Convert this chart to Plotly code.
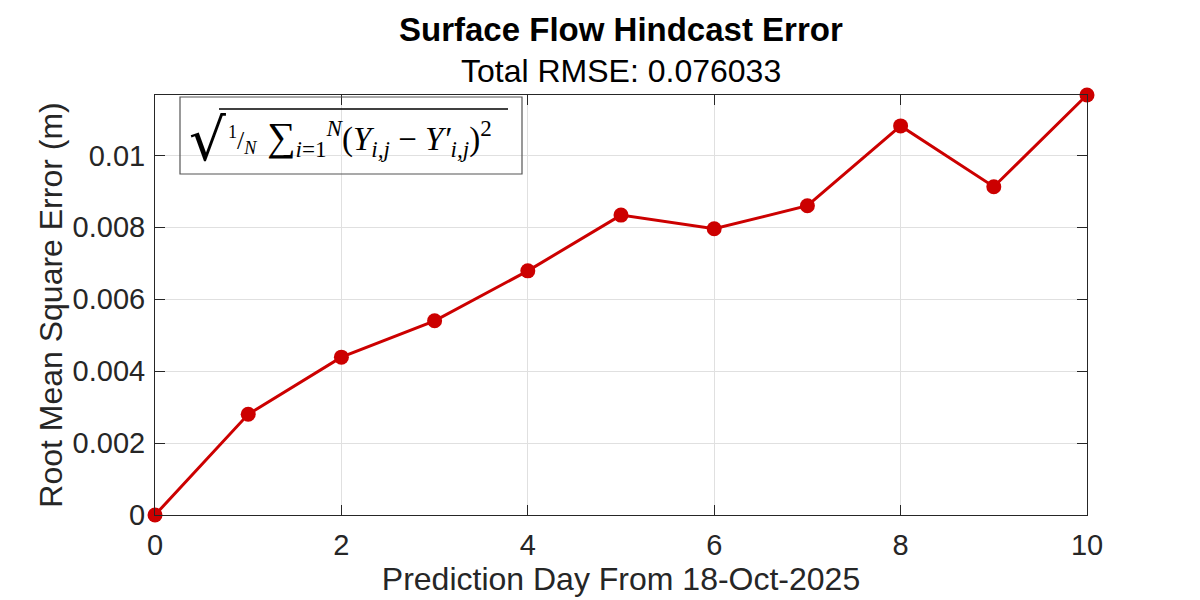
import plotly.graph_objects as go

days = [0, 1, 2, 3, 4, 5, 6, 7, 8, 9, 10]
rmse = [0.0, 0.0028, 0.00439, 0.0054, 0.00679, 0.00834, 0.00796, 0.0086, 0.01082, 0.00913, 0.01168]
ytick_vals = [0, 0.002, 0.004, 0.006, 0.008, 0.01]
ytick_text = ["0", "0.002", "0.004", "0.006", "0.008", "0.01"]
xtick_vals = [0, 2, 4, 6, 8, 10]

title = "Surface Flow Hindcast Error"
subtitle = "Total RMSE: 0.076033"
xlabel = "Prediction Day From 18-Oct-2025"
ylabel = "Root Mean Square Error (m)"

FONT = "Liberation Sans, Arial, Helvetica, sans-serif"
TXT = "#262626"

# page offset (browser body margin) compensation
L, T, PW, PH = 147, 87, 932, 420

fig = go.Figure()
fig.add_trace(go.Scatter(
    x=days, y=rmse, mode="lines+markers",
    line=dict(color="#CC0000", width=3),
    marker=dict(color="#CC0000", size=15),
    showlegend=False, cliponaxis=False,
))

axis_common = dict(
    showline=True, linecolor="#262626", linewidth=1, mirror="allticks",
    ticks="inside", ticklen=10, tickcolor="#262626", tickwidth=1,
    showgrid=True, gridcolor="#e0e0e0", gridwidth=1, zeroline=False,
    tickfont=dict(family=FONT, size=29, color=TXT),
)

fig.update_layout(
    width=1200, height=600,
    margin=dict(l=L, r=1200 - L - PW, t=T, b=600 - T - PH),
    paper_bgcolor="white", plot_bgcolor="white",
    xaxis=dict(range=[0, 10], tickvals=xtick_vals, ticklabelstandoff=4, **axis_common,
               title=dict(text=xlabel, font=dict(family=FONT, size=32, color=TXT), standoff=4)),
    yaxis=dict(range=[0, 0.01168], tickvals=ytick_vals, ticktext=ytick_text, ticklabelstandoff=3,
               **axis_common,
               title=dict(text=ylabel, font=dict(family=FONT, size=32, color=TXT), standoff=0)),
    font=dict(family=FONT, color=TXT),
)

fig.add_annotation(text="<b>" + title + "</b>", xref="paper", yref="paper", x=0.5, y=1,
                   yshift=66, showarrow=False, font=dict(family=FONT, size=33, color="black"),
                   xanchor="center", yanchor="middle")
fig.add_annotation(text=subtitle, xref="paper", yref="paper", x=0.5, y=1,
                   yshift=24, showarrow=False, font=dict(family=FONT, size=32, color="black"),
                   xanchor="center", yanchor="middle")

# formula box (screen coords converted to paper fractions)
def px(xs):
    return (xs - 8 - L) / PW

def py(ys):
    return (T + PH - (ys - 8)) / PH

SERIF = "Liberation Serif, DejaVu Serif, serif"
fig.add_annotation(text="√", xref="paper", yref="paper", x=px(207), y=py(140),
                   showarrow=False, xanchor="center", yanchor="middle",
                   font=dict(family="DejaVu Sans", size=58, color="black"))
fig.add_annotation(text="<sup>1</sup>/<sub><i>N</i></sub>", xref="paper", yref="paper",
                   x=px(242), y=py(140), showarrow=False, xanchor="center", yanchor="middle",
                   font=dict(family=SERIF, size=26, color="black"))
fig.add_annotation(text="<span style='font-size:40px'>∑</span><sub><i>i</i>=1</sub><sup><i>N</i></sup>"
                        "(<i>Y</i><sub><i>i,j</i></sub> − <i>Y′</i><sub><i>i,j</i></sub>)<sup>2</sup>",
                   xref="paper", yref="paper", x=px(265), y=py(138),
                   showarrow=False, xanchor="left", yanchor="middle",
                   font=dict(family=SERIF, size=33, color="black"))
fig.add_shape(type="rect", xref="paper", yref="paper",
              x0=px(180), x1=px(522), y0=py(174), y1=py(97),
              line=dict(color="#555555", width=1.2), fillcolor="rgba(0,0,0,0)")
fig.add_shape(type="line", xref="paper", yref="paper",
              x0=px(219), x1=px(508), y0=py(109), y1=py(109),
              line=dict(color="black", width=1.3))

fig.write_html("out.html")
